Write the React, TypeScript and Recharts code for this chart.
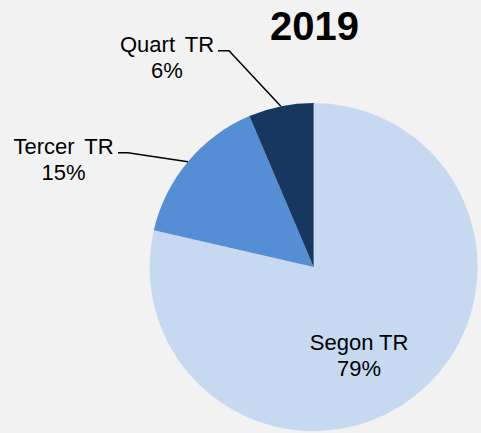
import React from 'react';
import { PieChart, Pie, Cell } from 'recharts';

const categories = ['Segon TR', 'Tercer TR', 'Quart TR'];
const values = [78.6, 15.0, 6.4];
const colors = ['#C6D9F1', '#558ED5', '#17375E'];
const title = '2019';

const data = categories.map((name, i) => ({ name, value: values[i] }));

const FONT = '"Liberation Sans", Arial, sans-serif';
const RADIAN = Math.PI / 180;

// label layout, offsets relative to pie centre (px)
const labelLayout = [
  { inside: true, tx: 45.5, ty1: 83, ty2: 109, ws: 0 },
  { inside: false, ex: -185.6, ey: -114.3, lx: -195.6, tx: -250.1, ty1: -113, ty2: -87, ws: 4 },
  { inside: false, ex: -84.6, ey: -216.3, lx: -95.6, tx: -146.6, ty1: -215, ty2: -189.5, ws: 4 },
];

const renderLabel = (props: any) => {
  const { cx, cy, midAngle, outerRadius, percent, name, index } = props;
  const lay = labelLayout[index];
  const pct = `${Math.round(percent * 100)}%`;
  const textProps = {
    fontFamily: FONT,
    fontSize: 22,
    fill: '#000000',
    textAnchor: 'middle' as const,
  };
  const tx = cx + lay.tx;
  let line = null;
  if (!lay.inside) {
    const ax = cx + outerRadius * Math.cos(-midAngle * RADIAN);
    const ay = cy + outerRadius * Math.sin(-midAngle * RADIAN);
    const pts = `${ax},${ay} ${cx + lay.ex},${cy + lay.ey} ${cx + lay.lx},${cy + lay.ey}`;
    line = <polyline points={pts} fill="none" stroke="#000000" strokeWidth={1.5} />;
  }
  return (
    <g key={`lbl-${index}`}>
      {line}
      <text x={tx} y={cy + lay.ty1} {...textProps} style={{ wordSpacing: lay.ws }}>{name}</text>
      <text x={tx} y={cy + lay.ty2} {...textProps}>{pct}</text>
    </g>
  );
};

export default function App() {
  return (
    <div style={{ position: 'absolute', left: 0, top: 0, width: 481, height: 433, background: '#F2F2F2', overflow: 'hidden' }}>
      <PieChart width={481} height={433} margin={{ top: 0, right: 0, bottom: 0, left: 0 }}>
        <Pie
          data={data}
          dataKey="value"
          nameKey="name"
          cx={313.6}
          cy={267}
          outerRadius={164}
          startAngle={90}
          endAngle={-270}
          stroke="none"
          label={renderLabel}
          labelLine={false}
          isAnimationActive={false}
        >
          {data.map((d, i) => (
            <Cell key={d.name} fill={colors[i]} stroke="none" />
          ))}
        </Pie>
      </PieChart>
      <svg width={481} height={433} style={{ position: 'absolute', left: 0, top: 0, pointerEvents: 'none' }}>
        <text x={314.5} y={40} textAnchor="middle" fontFamily={FONT} fontSize={40} fontWeight="bold" fill="#000000">
          {title}
        </text>
      </svg>
    </div>
  );
}
